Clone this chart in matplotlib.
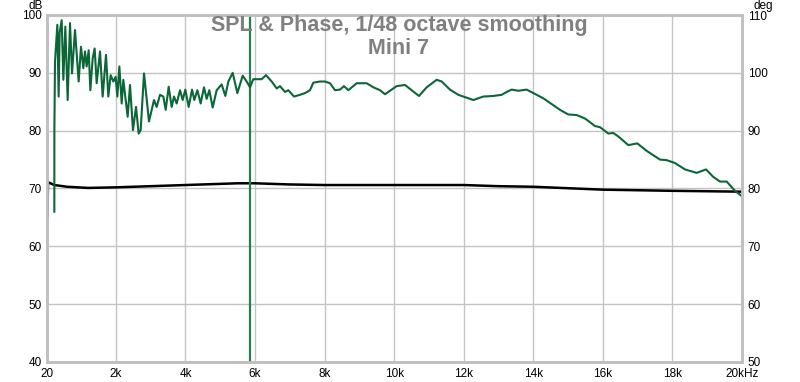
import matplotlib
matplotlib.use("Agg")
import matplotlib.pyplot as plt
from matplotlib.ticker import FixedLocator

# SPL (dB, lewa oś) - czarna linia
spl_freq = [20, 30, 50, 120, 230, 600, 1200, 2000, 3000, 4000, 5000, 5500, 6000,
            7000, 8000, 10000, 12000, 13000, 14000, 16000, 18000, 20000]
spl_db = [65.1, 65.1, 71.1, 70.9, 70.6, 70.3, 70.1, 70.2, 70.4, 70.6, 70.8, 70.9, 70.9,
          70.7, 70.6, 70.6, 70.6, 70.4, 70.3, 69.8, 69.6, 69.45]

# Faza (deg, prawa oś) - zielona linia
phase_freq = [231, 232, 250, 317, 355, 384, 442, 490, 547, 614, 681, 739, 825, 930, 997,
              1065, 1112, 1160, 1218, 1266, 1333, 1390, 1448, 1544, 1620, 1716, 1783,
              1850, 1927, 1994, 2042, 2100, 2167, 2214, 2339, 2406, 2492, 2579, 2655,
              2713, 2809, 2952, 3096, 3173, 3269, 3364, 3432, 3518, 3604, 3671, 3748,
              3844, 3920, 3997, 4093, 4189, 4256, 4342, 4438, 4533, 4610, 4687, 4783,
              4898, 5041, 5147, 5233, 5358, 5492, 5645, 5760, 5856, 5951, 6192, 6316,
              6480, 6623, 6718, 6862, 6957, 7121, 7293, 7437, 7581, 7676, 7868, 8012,
              8156, 8300, 8443, 8558, 8682, 8923, 9211, 9401, 9593, 9737, 9929, 10073,
              10312, 10504, 10714, 10936, 11223, 11367, 11605, 11844, 12086, 12276,
              12563, 12851, 13092, 13236, 13379, 13569, 13810, 14000, 14288, 14575,
              14768, 15006, 15248, 15487, 15774, 15918, 16157, 16301, 16444, 16732,
              16991, 17260, 17643, 17835, 18074, 18361, 18697, 18965, 19175, 19367,
              19560, 19798, 19991]
phase_deg = [76.0, 90.0, 101.9, 108.3, 95.9, 107.0, 109.1, 98.8, 108.0, 95.3, 108.6,
             99.9, 107.4, 98.5, 104.5, 100.8, 103.7, 101.1, 103.9, 97.0, 102.5, 104.2,
             98.2, 103.7, 95.9, 103.1, 95.9, 99.6, 98.5, 99.3, 95.9, 101.1, 94.7, 98.8,
             92.4, 97.9, 90.1, 94.1, 89.5, 90.1, 99.9, 91.6, 95.3, 94.1, 96.2, 95.9,
             93.6, 97.6, 94.1, 95.9, 94.7, 97.0, 95.3, 97.1, 94.1, 97.1, 95.3, 97.0,
             94.7, 97.5, 95.5, 97.0, 94.0, 97.0, 98.0, 96.0, 98.5, 100.0, 96.5, 99.5,
             98.5, 97.5, 98.9, 98.9, 99.6, 98.5, 97.3, 97.7, 96.7, 97.0, 95.9, 96.2,
             96.5, 97.0, 98.3, 98.5, 98.5, 98.2, 97.0, 97.1, 97.7, 97.0, 98.2, 98.2,
             97.5, 97.0, 96.3, 97.1, 97.7, 97.9, 97.0, 96.0, 97.5, 98.8, 98.5, 97.1,
             96.2, 95.7, 95.3, 95.9, 96.0, 96.2, 96.7, 97.1, 96.9, 97.1, 96.5, 95.6,
             94.4, 93.6, 92.8, 92.7, 92.1, 90.8, 90.6, 89.5, 89.6, 89.0, 87.5, 87.8,
             86.5, 85.0, 84.9, 84.4, 83.3, 82.7, 83.3, 82.0, 81.2, 81.2, 79.6, 78.7]

WRAP_FREQ = 5856  # skok fazy - pionowa linia

x_ticks = [20, 2000, 4000, 6000, 8000, 10000, 12000, 14000, 16000, 18000, 20000]
x_labels = ["20", "2k", "4k", "6k", "8k", "10k", "12k", "14k", "16k", "18k", "20kHz"]
db_ticks = [40, 50, 60, 70, 80, 90, 100]
deg_ticks = [50, 60, 70, 80, 90, 100, 110]

plt.rcParams["font.family"] = ["Liberation Sans", "DejaVu Sans"]

fig = plt.figure(figsize=(8, 3.82), dpi=100)
ax = fig.add_axes([47 / 800, 20 / 382, 695 / 800, 347 / 382])
ax2 = ax.twinx()

ax.set_xlim(20, 20000)
ax.set_ylim(40, 100)
ax2.set_ylim(50, 110)

ax.xaxis.set_major_locator(FixedLocator(x_ticks))
ax.set_xticklabels(x_labels)
ax.set_yticks(db_ticks)
ax2.set_yticks(deg_ticks)
ax.grid(True, color="#c4c4c4", linewidth=1.0)
ax.tick_params(length=0, labelsize=8.5, pad=4)
ax2.tick_params(length=0, labelsize=8.5, pad=4)

for a in (ax, ax2):
    for s in a.spines.values():
        s.set_color("#c0c0c0")
        s.set_linewidth(2.0)

ax.plot(spl_freq, spl_db, color="black", linewidth=1.8, zorder=3)
ax2.axvline(WRAP_FREQ, color="#237f50", linewidth=1.6)
ax2.plot(phase_freq, phase_deg, color="#0b6638", linewidth=1.5)

fig.text(28 / 800, 1 - 6 / 382, "dB", fontsize=8.5, va="center", ha="left")
fig.text(753 / 800, 1 - 6 / 382, "deg", fontsize=8.5, va="center", ha="left")

fig.text(399 / 800, 1 - 26 / 382, "SPL & Phase, 1/48 octave smoothing", fontsize=15.5,
         fontweight="bold", color="#808080", ha="center", va="center")
fig.text(399 / 800, 1 - 49 / 382, "Mini 7", fontsize=15.5,
         fontweight="bold", color="#808080", ha="center", va="center")

fig.savefig("out.png", dpi=100)
